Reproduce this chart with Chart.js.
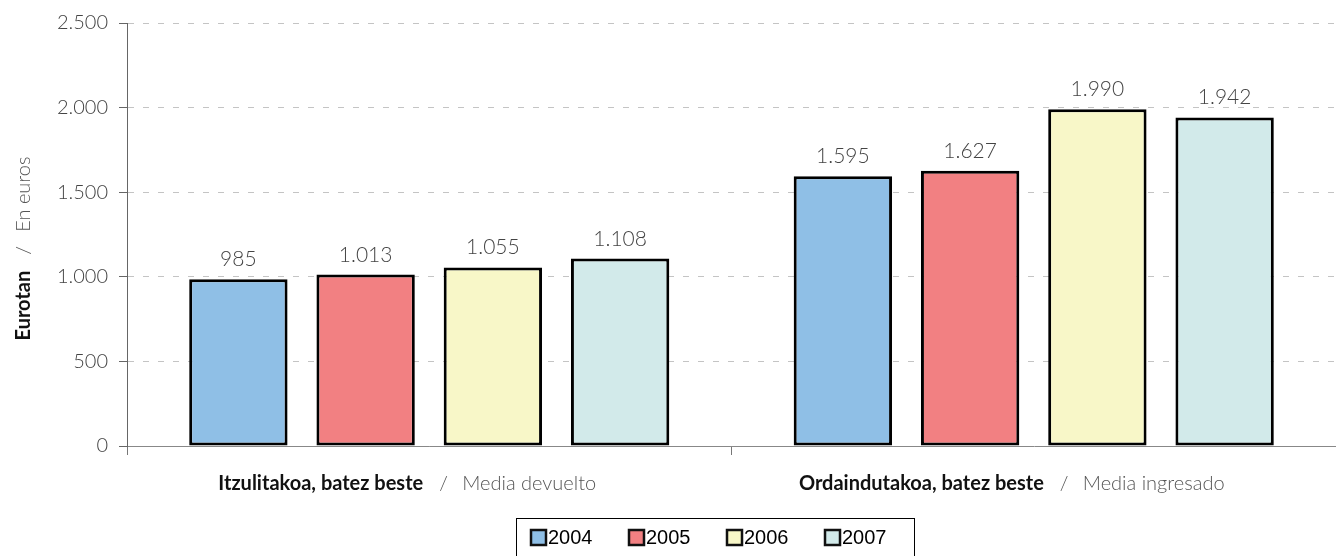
<!DOCTYPE html>
<html>
<head>
<meta charset="utf-8">
<script src="https://cdn.jsdelivr.net/npm/chart.js@4.4.0/dist/chart.umd.min.js"></script>
<style>
  html, body { margin: 0; padding: 0; background: #fff; }
  #wrap { width: 1336px; height: 556px; position: relative; }
</style>
</head>
<body>
<div id="wrap"><canvas id="chart"></canvas></div>
<script>
// categories: [bold Basque part, light Spanish part]
const categories = [
  ['Itzulitakoa, batez beste', 'Media devuelto'],
  ['Ordaindutakoa, batez beste', 'Media ingresado']
];
const years = ['2004', '2005', '2006', '2007'];
const values2004 = [985, 1595];
const values2005 = [1013, 1627];
const values2006 = [1055, 1990];
const values2007 = [1108, 1942];
const yTicks = [0, 500, 1000, 1500, 2000, 2500];
const yTitle = ['Eurotan', 'En euros'];

const seriesValues = [values2004, values2005, values2006, values2007];
const seriesColors = ['#8fbfe6', '#f28082', '#f8f7c8', '#d2eaea'];

const fmt = n => String(n).replace(/\B(?=(\d{3})+(?!\d))/g, '.');

const LIGHT = '300 20px Lato';
const BOLD = '700 20px Lato';

// value labels above bars
const valueLabels = {
  id: 'valueLabels',
  afterDatasetsDraw(chart) {
    const ctx = chart.ctx;
    ctx.save();
    ctx.font = '300 21px Lato';
    ctx.fillStyle = '#444';
    ctx.textAlign = 'center';
    ctx.textBaseline = 'alphabetic';
    chart.data.datasets.forEach((ds, i) => {
      chart.getDatasetMeta(i).data.forEach((bar, j) => {
        ctx.fillText(fmt(ds.data[j]), bar.x, bar.y - 13);
      });
    });
    ctx.restore();
  }
};

// two-weight category labels and axis title
const mixedText = {
  id: 'mixedText',
  afterDraw(chart) {
    const ctx = chart.ctx;
    const xs = chart.scales.x;
    const area = chart.chartArea;
    ctx.save();
    ctx.textBaseline = 'alphabetic';
    ctx.textAlign = 'left';
    const gap = 13, slashW = 13;
    categories.forEach((parts, i) => {
      ctx.font = BOLD;
      const wb = ctx.measureText(parts[0]).width;
      ctx.font = LIGHT;
      const wl = ctx.measureText(parts[1]).width;
      const total = wb + gap + slashW + gap + wl;
      let x = xs.getPixelForValue(i) - 22 - total / 2;
      const y = area.bottom + 44;
      ctx.font = BOLD;
      ctx.fillStyle = '#111';
      ctx.fillText(parts[0], x, y);
      x += wb + gap;
      ctx.font = LIGHT;
      ctx.fillStyle = '#555';
      ctx.fillText('/', x + 3, y);
      x += slashW + gap;
      ctx.fillText(parts[1], x, y);
    });

    // rotated y title
    ctx.font = BOLD;
    const tb = ctx.measureText(yTitle[0]).width;
    ctx.font = LIGHT;
    const tl = ctx.measureText(yTitle[1]).width;
    const tTotal = tb + gap + slashW + gap + tl;
    ctx.translate(30, (area.top + area.bottom) / 2 + 14);
    ctx.rotate(-Math.PI / 2);
    let tx = -tTotal / 2;
    ctx.font = BOLD;
    ctx.fillStyle = '#111';
    ctx.fillText(yTitle[0], tx, 0);
    tx += tb + gap;
    ctx.font = LIGHT;
    ctx.fillStyle = '#555';
    ctx.fillText('/', tx + 3, 0);
    tx += slashW + gap;
    ctx.fillText(yTitle[1], tx, 0);
    ctx.restore();
  }
};

// boxed legend at the bottom
const boxLegend = {
  id: 'boxLegend',
  afterDraw(chart) {
    const ctx = chart.ctx;
    ctx.save();
    ctx.strokeStyle = '#000';
    ctx.lineWidth = 1;
    ctx.strokeRect(516.5, 518.5, 398, 60);
    ctx.font = '20px "Liberation Sans", Arial';
    ctx.textBaseline = 'middle';
    ctx.textAlign = 'left';
    chart.data.datasets.forEach((ds, i) => {
      const x = 531 + i * 98;
      const y = 530;
      ctx.fillStyle = ds.backgroundColor;
      ctx.fillRect(x, y, 15, 15);
      ctx.lineWidth = 2.5;
      ctx.strokeStyle = '#111';
      ctx.strokeRect(x, y, 15, 15);
      ctx.fillStyle = '#000';
      ctx.fillText(ds.label, x + 17, y + 8.5);
    });
    ctx.restore();
  }
};

function build() {
  new Chart(document.getElementById('chart'), {
    type: 'bar',
    data: {
      labels: categories.map(c => c[0]),
      datasets: years.map((yr, i) => ({
        label: yr,
        data: seriesValues[i],
        backgroundColor: seriesColors[i],
        borderColor: '#000',
        borderWidth: 3,
        borderSkipped: false,
        categoryPercentage: 0.842,
        barPercentage: 0.773
      }))
    },
    options: {
      responsive: true,
      maintainAspectRatio: false,
      animation: false,
      layout: { padding: { top: 22, right: 0, bottom: 0, left: 0 } },
      plugins: {
        legend: { display: false },
        tooltip: { enabled: false }
      },
      scales: {
        x: {
          offset: true,
          afterFit: s => { s.height = 110; },
          ticks: { display: false },
          grid: {
            display: true,
            offset: true,
            drawOnChartArea: false,
            drawTicks: true,
            tickLength: 9,
            tickColor: '#777',
            color: '#777'
          },
          border: { display: true, color: '#888', width: 1 }
        },
        y: {
          min: 0,
          max: 2500,
          afterFit: s => { s.width = 127; },
          afterBuildTicks: s => { s.ticks = yTicks.map(v => ({ value: v })); },
          ticks: {
            callback: v => fmt(v),
            font: { family: 'Lato', size: 20, weight: 300 },
            color: '#444',
            padding: 11
          },
          grid: {
            color: '#c4c4c4',
            lineWidth: 1,
            drawTicks: true,
            tickLength: 8,
            tickColor: '#666',
            tickBorderDash: [0, 0]
          },
          border: { display: true, color: '#666', width: 1, dash: [6, 9] }
        }
      }
    },
    plugins: [valueLabels, mixedText, boxLegend]
  });
}

Promise.all([
  document.fonts.load('300 20px Lato'),
  document.fonts.load('700 20px Lato'),
  document.fonts.load('20px "Liberation Sans"')
]).then(build, build);
</script>
</body>
</html>
